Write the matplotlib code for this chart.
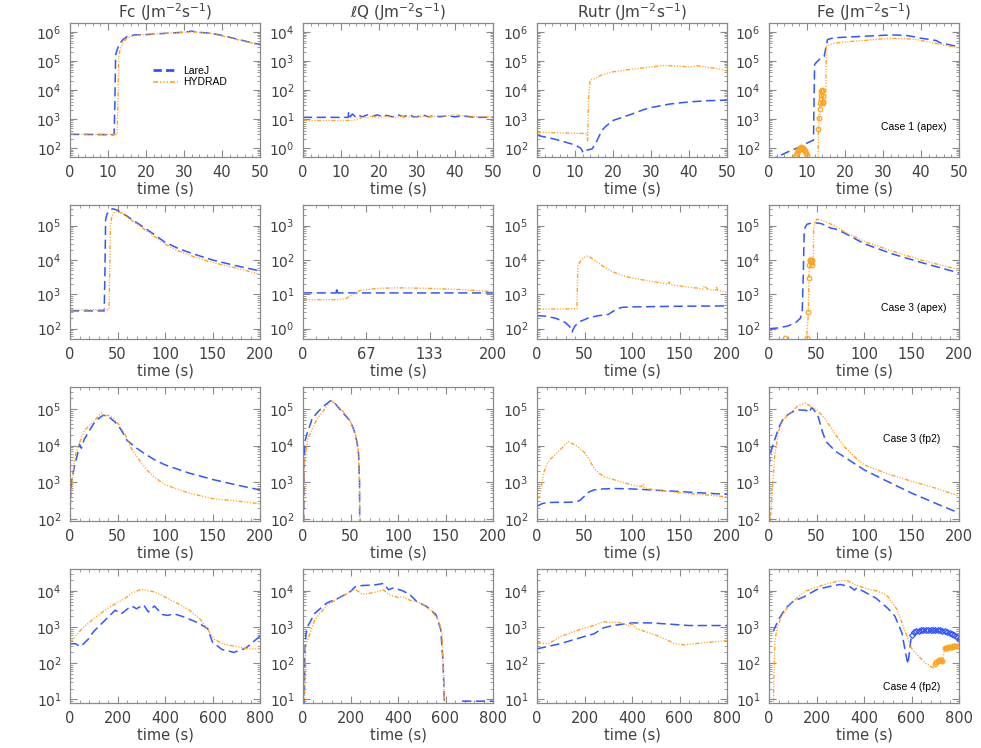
import numpy as np
import matplotlib
matplotlib.use("Agg")
import matplotlib.pyplot as plt
from matplotlib.ticker import AutoMinorLocator, LogLocator, NullFormatter, FixedLocator, FixedFormatter
from matplotlib.lines import Line2D

# ---------------- data ----------------
col_titles = ["Fc (Jm$^{-2}$s$^{-1}$)", "$\\ell$Q (Jm$^{-2}$s$^{-1}$)",
              "Rutr (Jm$^{-2}$s$^{-1}$)", "Fe (Jm$^{-2}$s$^{-1}$)"]
case_labels = ["Case 1 (apex)", "Case 3 (apex)", "Case 3 (fp2)", "Case 4 (fp2)"]
series_names = ["LareJ", "HYDRAD"]
row_tmax = [50, 200, 200, 800]
row_xticks = [[0, 10, 20, 30, 40, 50], [0, 50, 100, 150, 200],
              [0, 50, 100, 150, 200], [0, 200, 400, 600, 800]]
lq2_xticks = [0, 200/3, 400/3, 200]
lq2_xticklabels = ["0", "67", "133", "200"]
row_ylim = [[50, 2e6], [50, 4e5], [88, 4e5], [8, 4e4]]
lq_ylim = [[0.5, 2e4], [0.5, 4e3], [88, 4e5], [8, 4e4]]

# Row 1 (Case 1 apex)
fc1_lare_t = [0, 11.6, 11.8, 12.0, 12.5, 13, 14, 15, 17, 20, 23, 25, 28, 30, 32, 33, 35, 37, 40, 43, 46, 50]
fc1_lare_v = [300, 290, 3e3, 1.6e5, 2.6e5, 3.8e5, 5.5e5, 6.8e5, 7.8e5, 8e5, 8.5e5, 8.8e5, 9.3e5, 9.6e5, 1.05e6, 1e6, 9.3e5, 9e5, 7.5e5, 6e5, 4.8e5, 3.6e5]
fc1_hyd_t = [0, 12.4, 12.6, 12.8, 13.2, 14, 15, 16, 18, 20, 23, 25, 28, 30, 32, 35, 37, 40, 43, 46, 50]
fc1_hyd_v = [310, 300, 3e3, 1.3e5, 2.5e5, 4.5e5, 6e5, 7e5, 7.6e5, 8e5, 8.5e5, 8.8e5, 9.3e5, 9.6e5, 1e6, 9.3e5, 8.8e5, 7.3e5, 5.8e5, 4.7e5, 3.5e5]

lq1_lare_t = [0, 11.9, 12.0, 12.4, 13, 13.8, 14.5, 15.5, 17, 18, 19.5, 21, 22, 23.5, 25, 26.5, 28, 29, 30, 31.5, 33, 34.5, 36, 38, 40, 42, 44, 45, 50]
lq1_lare_v = [11.5, 11.5, 18, 12, 15, 12, 14, 12, 14, 12, 14, 12, 13.5, 12, 14, 12, 14.5, 12, 12, 14, 12, 13, 12, 13, 12, 13, 12, 11.5, 11.5]
lq1_hyd_t = [0, 13, 14.5, 16, 17, 18, 20, 22, 24, 26, 28, 30, 32, 34, 36, 38, 40, 42, 44, 46, 50]
lq1_hyd_v = [9, 9, 10, 12, 11, 13, 11, 12.5, 11, 12.5, 12, 11.5, 12.5, 12, 13, 13, 14, 13, 12.5, 12, 12]

ru1_lare_t = [0, 5, 10, 11.5, 12.2, 13, 14.5, 15.5, 17, 18, 20, 22, 25, 28, 30, 35, 40, 45, 50]
ru1_lare_v = [280, 200, 130, 100, 70, 85, 95, 150, 400, 550, 900, 1100, 1500, 2100, 2500, 3300, 3900, 4300, 4500]
ru1_hyd_t = [0, 13.2, 13.3, 13.6, 14, 15, 17, 20, 25, 30, 34, 38, 40, 42, 45, 48, 50]
ru1_hyd_v = [350, 320, 180, 6000, 2.2e4, 2.4e4, 3.3e4, 4.2e4, 5.2e4, 6.2e4, 7e4, 6.5e4, 6.2e4, 6.8e4, 6e4, 5.3e4, 4.5e4]

fe1_lare_t = [0, 2, 5, 8, 10, 11.7, 12.0, 12.5, 13.5, 14.5, 15.0, 15.4, 17, 20, 25, 28, 32, 36, 38, 40, 42, 44, 45, 47, 50]
fe1_lare_v = [35, 50, 75, 110, 150, 190, 7.5e4, 9e4, 1.2e5, 1.4e5, 3e5, 5.4e5, 6.2e5, 6.5e5, 7e5, 7.3e5, 7.8e5, 7.5e5, 6.8e5, 6e5, 5.5e5, 5e5, 4.2e5, 3.7e5, 3e5]
fe1_hyd_t = [12.9, 13.0, 13.2, 13.4, 13.6, 13.8, 14.0, 14.2, 14.5, 14.9, 15.1, 17, 20, 25, 30, 34, 38, 42, 46, 50]
fe1_hyd_v = [10, 450, 1200, 3000, 6000, 1e4, 8000, 3500, 3500, 4000, 3.2e5, 4e5, 4.5e5, 5e5, 5.8e5, 6e5, 5.6e5, 4.5e5, 3.5e5, 2.8e5]
fe1_hyd_mk_t = [6.9, 7.1, 7.3, 7.5, 7.7, 7.9, 8.1, 8.3, 8.5, 8.7, 8.9, 9.1, 9.3, 9.5, 9.7, 9.9, 10.1,
                13.0, 13.15, 13.3, 13.45, 13.6, 13.7, 13.8, 13.9, 14.0, 14.1, 14.2, 14.3]
fe1_hyd_mk_v = [50, 60, 70, 80, 88, 95, 100, 105, 107, 105, 100, 95, 88, 80, 70, 60, 50,
                450, 1100, 2300, 3500, 5000, 7000, 9000, 1e4, 9000, 6000, 4000, 3500]

# Row 2 (Case 3 apex)
fc2_lare_t = [0, 36, 36.8, 37.5, 39, 41, 43, 45, 47, 50, 55, 60, 67, 75, 85, 100, 115, 130, 150, 175, 200]
fc2_lare_v = [330, 330, 5e3, 1.5e5, 2.2e5, 2.6e5, 2.9e5, 3.1e5, 3e5, 2.8e5, 2.3e5, 1.9e5, 1.4e5, 1e5, 6.5e4, 3.3e4, 2.1e4, 1.5e4, 1e4, 6.8e3, 4.8e3]
fc2_hyd_t = [0, 41, 41.8, 42.5, 44, 46, 48, 50, 55, 60, 67, 75, 85, 100, 115, 130, 150, 175, 200]
fc2_hyd_v = [350, 360, 5e3, 1e5, 1.8e5, 2.3e5, 2.6e5, 2.6e5, 2.3e5, 1.8e5, 1.3e5, 9e4, 5.8e4, 2.9e4, 1.8e4, 1.25e4, 8.5e3, 5.8e3, 3.9e3]

lq2_lare_t = [0, 35, 35.5, 36, 37, 200]
lq2_lare_v = [11, 11, 16, 11.5, 11, 11]
lq2_hyd_t = [0, 38, 45, 50, 55, 60, 70, 80, 100, 130, 160, 180, 200]
lq2_hyd_v = [7, 7, 7.5, 9, 11, 13, 14, 15, 15.5, 15, 14, 13, 12]

ru2_lare_t = [0, 10, 20, 30, 35, 37, 38, 40, 45, 55, 65, 75, 80, 85, 90, 100, 150, 200]
ru2_lare_v = [240, 230, 200, 150, 110, 80, 95, 120, 160, 210, 240, 260, 320, 380, 420, 430, 450, 460]
ru2_hyd_t = [0, 41, 42, 43, 46, 50, 53, 56, 60, 70, 80, 90, 100, 120, 138, 139, 140, 150, 170, 175, 176, 180, 188, 189, 190, 200]
ru2_hyd_v = [370, 380, 380, 7e3, 9.5e3, 1.2e4, 1.3e4, 1.2e4, 1e4, 6.5e3, 4.5e3, 3.5e3, 3e3, 2.4e3, 2e3, 2.3e3, 1.95e3, 1.75e3, 1.5e3, 1.45e3, 1.75e3, 1.4e3, 1.3e3, 1.6e3, 1.3e3, 1.15e3]

fe2_lare_t = [0, 10, 20, 28, 33, 35, 36, 37, 38, 40, 45, 50, 55, 60, 65, 70, 80, 100, 130, 160, 200]
fe2_lare_v = [100, 105, 120, 150, 200, 350, 3e3, 6e4, 9e4, 1.1e5, 1.2e5, 1.2e5, 1.15e5, 1e5, 8.5e4, 8e4, 6e4, 3e4, 1.5e4, 8.5e3, 4.2e3]
fe2_hyd_t = [39.0, 39.5, 41.5, 42.0, 42.5, 43.0, 44.0, 45.5, 46.6, 47.0, 48, 50.6, 55, 60, 70, 80, 100, 130, 160, 200]
fe2_hyd_v = [10, 52, 300, 3e3, 7e3, 1e4, 1e4, 7e3, 7e3, 8e4, 1.3e5, 1.55e5, 1.45e5, 1.3e5, 9.5e4, 6.5e4, 3.5e4, 1.8e4, 1e4, 5.2e3]
fe2_hyd_mk_t = [16.8, 39.5, 41.5, 42.0, 42.5, 43.0, 43.5, 44.0, 44.5, 45.0, 45.5]
fe2_hyd_mk_v = [55, 52, 300, 3e3, 7e3, 1e4, 1e4, 1e4, 9e3, 1e4, 7e3]

# Row 3 (Case 3 fp2)
fc3_lare_t = [0, 2, 5, 8, 10, 12, 15, 20, 25, 30, 35, 40, 45, 50, 55, 60, 70, 80, 90, 100, 125, 150, 175, 200]
fc3_lare_v = [300, 1.2e3, 3e3, 6e3, 1.1e4, 8.5e3, 1.5e4, 2.5e4, 4e4, 5.5e4, 6.8e4, 6.3e4, 5e4, 3.8e4, 2.4e4, 1.4e4, 8.6e3, 5.7e3, 4e3, 3e3, 1.8e3, 1.2e3, 8.5e2, 6.2e2]
fc3_hyd_t = [0, 2, 4, 6, 10, 15, 20, 25, 30, 33, 37, 40, 45, 50, 55, 58, 65, 74, 80, 88, 100, 125, 150, 175, 200]
fc3_hyd_v = [150, 800, 3e3, 6e3, 1.2e4, 2.5e4, 3.5e4, 4.5e4, 6.5e4, 7.8e4, 6.5e4, 6.8e4, 5.9e4, 4.2e4, 2.8e4, 2e4, 8e3, 3.7e3, 2.3e3, 1.45e3, 860, 510, 360, 310, 260]

lq3_lare_t = [0.5, 1, 2, 5, 8, 10, 12, 15, 20, 25, 30, 35, 40, 45, 50, 54, 57, 58.5, 59.5, 60]
lq3_lare_v = [1, 3e3, 1.3e4, 2.5e4, 4e4, 6e4, 6.5e4, 8e4, 1.1e5, 1.4e5, 1.75e5, 1.3e5, 9e4, 6.5e4, 4.6e4, 2.5e4, 1.2e4, 6e3, 1e3, 1]
lq3_hyd_t = [0.5, 1, 2, 5, 10, 15, 20, 25, 30, 35, 40, 45, 50, 55, 58, 59.5, 60]
lq3_hyd_v = [1, 2e3, 5e3, 1.5e4, 3e4, 5.5e4, 8e4, 1.2e5, 1.7e5, 1.3e5, 1e5, 7e4, 4.5e4, 2.2e4, 9e3, 1e3, 1]

ru3_lare_t = [0, 5, 10, 20, 30, 40, 45, 50, 55, 60, 65, 80, 100, 125, 150, 175, 200]
ru3_lare_v = [220, 260, 280, 285, 285, 290, 320, 420, 550, 620, 650, 680, 660, 610, 560, 510, 470]
ru3_hyd_t = [0, 3, 5, 7, 10, 15, 20, 25, 30, 33, 37, 40, 45, 50, 55, 60, 65, 70, 80, 90, 100, 110, 112, 113, 120, 150, 175, 200]
ru3_hyd_v = [350, 420, 900, 1.8e3, 3e3, 4.5e3, 6e3, 8e3, 1.1e4, 1.3e4, 1.15e4, 1.05e4, 8.5e3, 6.5e3, 4.2e3, 2.4e3, 1.8e3, 1.45e3, 1.2e3, 1e3, 850, 760, 900, 700, 650, 520, 460, 400]

fe3_lare_t = [0, 1, 2, 5, 10, 15, 20, 25, 30, 38, 40, 42, 45, 48, 52, 56, 60, 70, 80, 100, 125, 150, 175, 200]
fe3_lare_v = [2.6e3, 5e3, 7e3, 1.2e4, 3e4, 5.5e4, 7e4, 8.5e4, 9.5e4, 9.3e4, 9e4, 8e4, 1.1e5, 9e4, 6e4, 2.5e4, 1.3e4, 7e3, 4.8e3, 2.2e3, 1.05e3, 510, 270, 145]
fe3_hyd_t = [1.5, 2, 3, 4, 6, 10, 15, 20, 25, 30, 38, 45, 50, 57, 60, 70, 80, 90, 100, 125, 150, 175, 200]
fe3_hyd_v = [50, 150, 400, 1e3, 5e3, 2.5e4, 5e4, 7e4, 9e4, 1.2e5, 1.45e5, 1.15e5, 9.5e4, 6.3e4, 5e4, 2e4, 9e3, 5e3, 3e3, 1.7e3, 1.07e3, 700, 420]

# Row 4 (Case 4 fp2)
nan = float("nan")
fc4_lare_t = [0, 20, 45, 75, 100, 150, 190, 215, 240, 260, 280, 310, 330, 355, 390, 410, 440, 480, 540, 580, 600, 640, 690, 740, 800]
fc4_lare_v = [340, 350, 290, 450, 760, 1.6e3, 2.9e3, 2.3e3, 3.1e3, 3.8e3, 3.2e3, 4.1e3, 2.6e3, 3.8e3, 2.2e3, 2.1e3, 2.3e3, 1.9e3, 1.3e3, 900, 380, 240, 200, 260, 560]
fc4_hyd_t = [0, 50, 100, 150, 200, 230, 260, 300, 330, 360, 400, 450, 500, 550, 580, 610, 650, 700, 750, 800]
fc4_hyd_v = [370, 900, 1.7e3, 3e3, 4.8e3, 6e3, 8.7e3, 1.1e4, 1e4, 9.2e3, 6.7e3, 4.6e3, 3e3, 1.6e3, 850, 450, 330, 290, 250, 250]

lq4_lare_t = [3, 8, 12, 18, 50, 100, 150, 200, 220, 250, 300, 340, 360, 380, 420, 450, 480, 520, 560, 580, 590, 600, 601, 670, 800]
lq4_lare_v = [1, 200, 600, 1e3, 2.4e3, 4.6e3, 6.3e3, 9.6e3, 1.3e4, 1.4e4, 1.45e4, 1.6e4, 1.07e4, 1.2e4, 1e4, 7.8e3, 5e3, 3.7e3, 2.2e3, 850, 100, 1, nan, 9, 9]
lq4_hyd_t = [5, 10, 20, 50, 100, 150, 200, 220, 250, 280, 300, 340, 360, 400, 420, 450, 500, 540, 570, 585, 600]
lq4_hyd_v = [1, 300, 450, 1.6e3, 4e3, 6.2e3, 9.5e3, 1.1e4, 8e3, 8.5e3, 9e3, 1.05e4, 8e3, 6.5e3, 6.8e3, 5.5e3, 4.5e3, 2.8e3, 1.6e3, 700, 1]

ru4_lare_t = [0, 100, 200, 240, 280, 320, 400, 480, 560, 640, 800]
ru4_lare_v = [250, 350, 550, 650, 950, 1.1e3, 1.3e3, 1.3e3, 1.2e3, 1.1e3, 1.1e3]
ru4_hyd_t = [0, 50, 100, 200, 240, 280, 300, 340, 370, 390, 400, 420, 500, 580, 620, 700, 800]
ru4_hyd_v = [360, 350, 550, 950, 1.1e3, 1.4e3, 1.35e3, 1.35e3, 1.2e3, 1.05e3, 1.25e3, 900, 600, 350, 320, 370, 420]

fe4_lare_t = [18, 40, 70, 100, 150, 200, 250, 300, 340, 360, 370, 400, 450, 500, 530, 560, 575, 585, 600]
fe4_lare_v = [760, 1.6e3, 3.3e3, 5e3, 7e3, 1.07e4, 1.3e4, 1.5e4, 1.3e4, 1.05e4, 1.2e4, 9.5e3, 6.3e3, 3.3e3, 2e3, 680, 190, 95, 615]
fe4_lare_mk_t = [600, 610, 620, 630, 640, 650, 660, 670, 680, 690, 700, 710, 720, 730, 740, 750, 760, 770, 780, 790, 800]
fe4_lare_mk_v = [620, 720, 770, 800, 820, 840, 850, 850, 850, 850, 840, 830, 820, 800, 780, 750, 700, 650, 600, 540, 480]
fe4_hyd_t = [17, 20, 25, 35, 50, 75, 100, 150, 200, 250, 300, 330, 360, 400, 450, 480, 500, 540, 570, 600, 630, 660, 690, 700, 720, 730, 740, 760, 780, 800]
fe4_hyd_v = [1, 30, 420, 1e3, 1.8e3, 3.3e3, 5e3, 9.6e3, 1.25e4, 1.6e4, 1.9e4, 1.9e4, 1.5e4, 1.2e4, 1e4, 8.5e3, 7e3, 3e3, 850, 260, 155, 100, 75, 95, 125, 115, 260, 280, 300, 300]
fe4_hyd_mk_t = [700, 705, 710, 715, 720, 725, 730, 740, 745, 750, 755, 760, 765, 770, 775, 780, 785, 790, 795, 800]
fe4_hyd_mk_v = [95, 105, 115, 120, 125, 120, 115, 260, 265, 270, 275, 280, 285, 290, 295, 300, 300, 300, 300, 300]

# ---------------- styles ----------------
BLUE = "#3355ff"
ORANGE = "#ffa420"
FRAME = "#8a8a8a"
TXT = "#404040"
blue_dash = (0, (6, 3))
orange_dash = (0, (3, 1.2, 0.8, 1.2, 0.8, 1.2, 0.8, 1.2))

panels = [
    [(fc1_lare_t, fc1_lare_v, fc1_hyd_t, fc1_hyd_v, None, None),
     (lq1_lare_t, lq1_lare_v, lq1_hyd_t, lq1_hyd_v, None, None),
     (ru1_lare_t, ru1_lare_v, ru1_hyd_t, ru1_hyd_v, None, None),
     (fe1_lare_t, fe1_lare_v, fe1_hyd_t, fe1_hyd_v, None, (fe1_hyd_mk_t, fe1_hyd_mk_v))],
    [(fc2_lare_t, fc2_lare_v, fc2_hyd_t, fc2_hyd_v, None, None),
     (lq2_lare_t, lq2_lare_v, lq2_hyd_t, lq2_hyd_v, None, None),
     (ru2_lare_t, ru2_lare_v, ru2_hyd_t, ru2_hyd_v, None, None),
     (fe2_lare_t, fe2_lare_v, fe2_hyd_t, fe2_hyd_v, None, (fe2_hyd_mk_t, fe2_hyd_mk_v))],
    [(fc3_lare_t, fc3_lare_v, fc3_hyd_t, fc3_hyd_v, None, None),
     (lq3_lare_t, lq3_lare_v, lq3_hyd_t, lq3_hyd_v, None, None),
     (ru3_lare_t, ru3_lare_v, ru3_hyd_t, ru3_hyd_v, None, None),
     (fe3_lare_t, fe3_lare_v, fe3_hyd_t, fe3_hyd_v, None, None)],
    [(fc4_lare_t, fc4_lare_v, fc4_hyd_t, fc4_hyd_v, None, None),
     (lq4_lare_t, lq4_lare_v, lq4_hyd_t, lq4_hyd_v, None, None),
     (ru4_lare_t, ru4_lare_v, ru4_hyd_t, ru4_hyd_v, None, None),
     (fe4_lare_t, fe4_lare_v, fe4_hyd_t, fe4_hyd_v, (fe4_lare_mk_t, fe4_lare_mk_v), (fe4_hyd_mk_t, fe4_hyd_mk_v))],
]

plt.rcParams["font.family"] = ["DejaVu Sans"]
plt.rcParams["mathtext.fontset"] = "dejavusans"

W, H = 981, 748
fig = plt.figure(figsize=(W / 100, H / 100), dpi=100)
col_left = [70, 303, 537, 769]
row_top = [23, 205, 387, 569]
aw, ah = 190, 134
case_pos = [(0.763, 0.224), (0.763, 0.231), (0.752, 0.612), (0.752, 0.12)]

for r in range(4):
    for c in range(4):
        ax = fig.add_axes([col_left[c] / W, 1 - (row_top[r] + ah) / H, aw / W, ah / H])
        lt, lv, ht, hv, lmk, hmk = panels[r][c]
        ax.plot(lt, lv, color=BLUE, lw=1.1, linestyle=blue_dash)
        ax.plot(ht, hv, color=ORANGE, lw=1.0, linestyle=orange_dash)
        if lmk is not None:
            ax.plot(lmk[0], lmk[1], linestyle="none", marker="D", ms=3.0, mfc="none",
                    mec=BLUE, mew=0.9)
        if hmk is not None:
            ax.plot(hmk[0], hmk[1], linestyle="none", marker="o", ms=3.3, mfc="none",
                    mec=ORANGE, mew=0.9)
        ax.set_yscale("log")
        ax.set_xlim(0, row_tmax[r])
        ax.set_ylim(*(lq_ylim[r] if c == 1 else row_ylim[r]))
        if r == 1 and c == 1:
            ax.xaxis.set_major_locator(FixedLocator(lq2_xticks))
            ax.xaxis.set_major_formatter(FixedFormatter(lq2_xticklabels))
        else:
            ax.set_xticks(row_xticks[r])
        ax.xaxis.set_minor_locator(AutoMinorLocator(5))
        ax.yaxis.set_major_locator(LogLocator(base=10, numticks=12))
        ax.yaxis.set_minor_locator(LogLocator(base=10, subs=np.arange(2, 10), numticks=12))
        ax.yaxis.set_minor_formatter(NullFormatter())
        ax.tick_params(which="both", direction="in", top=True, right=True, color=FRAME,
                       labelcolor=TXT)
        ax.tick_params(which="major", length=5, width=0.8, labelsize=10.5, pad=6)
        ax.tick_params(axis="y", which="major", labelsize=10)
        ax.tick_params(which="minor", length=2.5, width=0.6)
        for s in ax.spines.values():
            s.set_color(FRAME)
            s.set_linewidth(0.9)
        ax.set_xlabel("time (s)", color=TXT, fontsize=10.5, labelpad=1)
        if r == 0:
            ax.set_title(col_titles[c], color=TXT, fontsize=11, pad=2)
        if c == 3:
            ax.text(case_pos[r][0], case_pos[r][1], case_labels[r], transform=ax.transAxes,
                    ha="center", va="center", fontsize=7.5, color="black",
                    family="Liberation Sans")
        if r == 0 and c == 0:
            handles = [Line2D([], [], color=BLUE, lw=2.0, linestyle=(0, (3, 1.5))),
                       Line2D([], [], color=ORANGE, lw=1.2, linestyle=orange_dash)]
            leg = ax.legend(handles, series_names, loc="center left",
                            bbox_to_anchor=(0.39, 0.60), frameon=False, handlelength=2.4,
                            handletextpad=0.4, labelspacing=0.15,
                            prop={"family": "Liberation Sans", "size": 7.5})

fig.savefig("out.png", dpi=100)
